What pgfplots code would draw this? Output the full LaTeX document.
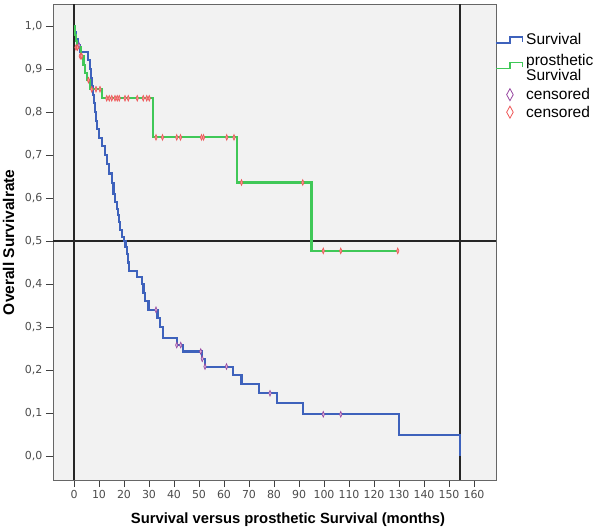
\documentclass[border=0pt]{standalone}
\usepackage{fontspec}
\setmainfont{Liberation Sans}
\newfontfamily\tickfont{DejaVu Sans}
\usepackage{pgfplots}
\pgfplotsset{compat=1.18}

\definecolor{bgpanel}{RGB}{242,242,242}
\definecolor{kmblue}{RGB}{62,98,188}
\definecolor{kmgreen}{RGB}{64,200,88}
\definecolor{cenred}{RGB}{238,86,86}
\definecolor{cenpurple}{RGB}{150,70,160}

% Kaplan-Meier steps (months, survival)
\pgfplotstableread{
m s
0 1.0
0.4 0.985
0.9 0.97
1.5 0.955
2.4 0.94
5.7 0.92
6.4 0.90
6.9 0.88
7.3 0.86
7.6 0.84
7.9 0.82
8.3 0.80
8.7 0.78
9.1 0.76
10.1 0.74
11.1 0.72
12.4 0.70
13.2 0.68
14.1 0.657
15.1 0.634
15.8 0.61
16.4 0.59
17.1 0.575
17.7 0.56
18.0 0.545
18.4 0.525
19.2 0.51
20.0 0.50
20.6 0.485
21.1 0.47
21.6 0.45
22.1 0.431
25.1 0.417
27.1 0.40
27.8 0.38
28.4 0.36
29.8 0.34
33.4 0.32
34.5 0.30
35.7 0.274
41.1 0.258
43.7 0.243
51.3 0.226
52.4 0.208
63.7 0.188
67.0 0.167
74.1 0.146
81.1 0.123
91.5 0.097
130.0 0.049
154.4 0.0
}\survblue

\pgfplotstableread{
m s
0 1.0
0.3 0.98
0.7 0.965
1.2 0.95
2.9 0.93
3.8 0.91
4.4 0.89
5.1 0.874
6.4 0.853
11.1 0.832
31.7 0.741
65.1 0.636
95.0 0.477
129.5 0.477
}\survgreen

\pgfplotstableread{
m s
2.0 0.955
32.8 0.34
41.1 0.258
42.7 0.258
50.7 0.243
51.3 0.226
52.4 0.208
61.0 0.208
78.4 0.146
99.7 0.097
106.7 0.097
}\censblue

\pgfplotstableread{
m s
0.8 0.95
1.4 0.95
2.5 0.93
3.1 0.93
5.8 0.874
7.1 0.853
8.8 0.853
10.4 0.853
13.1 0.832
14.1 0.832
15.1 0.832
16.4 0.832
17.3 0.832
18.1 0.832
20.4 0.832
21.7 0.832
25.3 0.832
27.7 0.832
29.1 0.832
30.1 0.832
32.8 0.741
35.4 0.741
41.1 0.741
42.6 0.741
51.0 0.741
51.8 0.741
61.1 0.741
64.0 0.741
67.0 0.636
91.5 0.636
99.7 0.477
106.7 0.477
129.5 0.477
}\censgreen

\begin{document}
\begin{tikzpicture}
\useasboundingbox (0,0) rectangle (600pt,530pt);
\begin{axis}[
    at={(53pt,50pt)}, anchor=south west,
    scale only axis,
    width=443pt, height=475.5pt,
    xmin=-8.4, xmax=168.8,
    ymin=-0.0558, ymax=1.05,
    xtick={0,10,...,160},
    ytick={0,0.1,...,1.0},
    tick pos=left, tick align=outside,
    major tick length=7pt,
    tick style={black!75, line width=0.9pt},
    axis line style={black!60, line width=0.9pt},
    axis background/.style={fill=bgpanel},
    /pgf/number format/assume math mode=true,
    ticklabel style={font=\tickfont\fontsize{11}{13}\selectfont, text=black!70},
    yticklabel style={/pgf/number format/.cd, fixed, fixed zerofill, precision=1, use comma},
    xticklabel style={/pgf/number format/.cd, fixed, precision=0},
    xlabel={Survival versus prosthetic Survival (months)},
    ylabel={Overall Survivalrate},
    xlabel style={font=\bfseries\fontsize{14.8}{18}\selectfont,
        at={(axis description cs:0.5,0)}, anchor=base, xshift=13.5pt, yshift=-43.5pt},
    ylabel style={font=\bfseries\fontsize{15.5}{18}\selectfont,
        at={(axis description cs:-0.088,0.5)}, anchor=base},
    legend style={at={(1,1)}, anchor=north west, xshift=-1pt, yshift=-28pt,
        draw=none, fill=none, inner sep=0pt, row sep=-1pt, column sep=2.5pt,
        font=\fontsize{15.5}{16}\selectfont,
        nodes={inner sep=0.5pt}},
    legend cell align=left,
]
% reference lines
\draw[black!85, line width=1.1pt] (axis cs:0,-0.0558) -- (axis cs:0,1.05);
\draw[black!85, line width=1.1pt] (axis cs:154.4,-0.0558) -- (axis cs:154.4,1.05);
\draw[black!85, line width=1.1pt] (axis cs:-8.4,0.5) -- (axis cs:168.8,0.5);

% legend icons carry invisible extents that set the row spacing
\addplot[const plot, kmblue, line width=2.1pt,
    legend image code/.code={\path[draw=none, fill=none] (0pt,-14pt) -- (0pt,0pt);
        \draw[kmblue, line width=1.5pt] (0pt,-3.4pt) -- (14pt,-3.4pt) -- (14pt,2.6pt) -- (26.5pt,2.6pt) -- (26.5pt,-2.7pt);}]
    table[x=m, y=s] {\survblue};
\addlegendentry{Survival}

\addplot[const plot, kmgreen, line width=2.1pt,
    legend image code/.code={\path[draw=none, fill=none] (0pt,-8.75pt) -- (0pt,8pt);
        \draw[kmgreen, line width=1.5pt] (0pt,-8pt) -- (14pt,-8pt) -- (14pt,-2pt) -- (26.5pt,-2pt) -- (26.5pt,-6.7pt);}]
    table[x=m, y=s] {\survgreen};
\addlegendentry{prosthetic}
\addlegendimage{legend image code/.code={\path[draw=none, fill=none] (0pt,-12.5pt) -- (0pt,0pt);}}
\addlegendentry{Survival}

\addplot[only marks, mark=diamond*, mark size=1.6pt,
    mark options={draw=cenpurple, fill=cenpurple!35, line width=0.6pt, yscale=1.8},
    legend image code/.code={\path[draw=none, fill=none] (0pt,-10.5pt) -- (0pt,8pt);
        \draw[cenpurple, line width=0.8pt] (14pt,-6pt) -- (17.3pt,0pt) -- (14pt,6pt) -- (10.7pt,0pt) -- cycle;}]
    table[x=m, y=s] {\censblue};
\addlegendentry{censored}

\addplot[only marks, mark=diamond*, mark size=1.6pt,
    mark options={draw=cenred, fill=cenred!60, line width=0.6pt, yscale=1.8},
    legend image code/.code={\path[draw=none, fill=none] (0pt,-6pt) -- (0pt,8pt);
        \draw[cenred, line width=0.8pt] (14pt,-6pt) -- (17.3pt,0pt) -- (14pt,6pt) -- (10.7pt,0pt) -- cycle;}]
    table[x=m, y=s] {\censgreen};
\addlegendentry{censored}
\end{axis}
\end{tikzpicture}
\end{document}
